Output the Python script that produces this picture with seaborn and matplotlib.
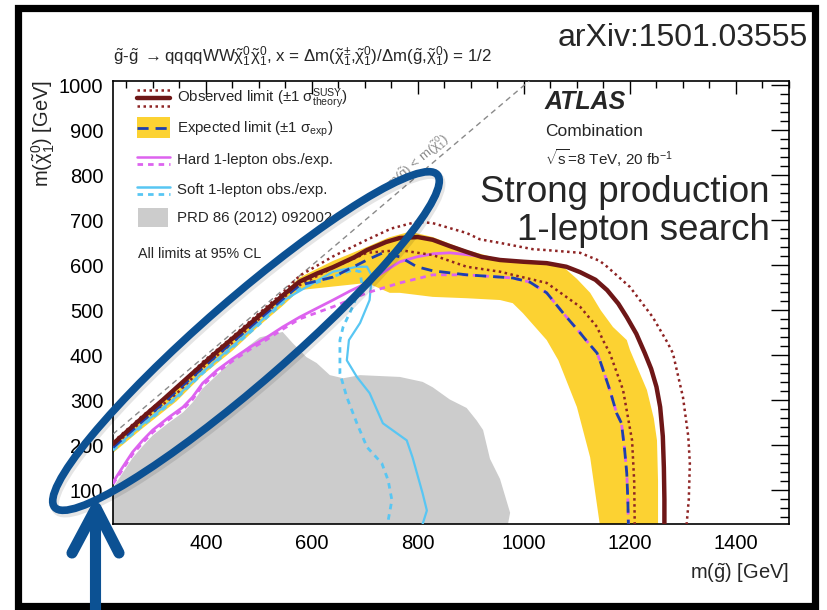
import numpy as np
import pandas as pd
import matplotlib
matplotlib.use("Agg")
import matplotlib.pyplot as plt
import seaborn as sns
from matplotlib.transforms import IdentityTransform
from matplotlib.patches import Ellipse, Rectangle
from matplotlib.lines import Line2D

sns.set_style("white")
plt.rcParams["font.family"] = ["Liberation Sans", "DejaVu Sans"]
plt.rcParams["mathtext.fontset"] = "custom"
plt.rcParams["mathtext.rm"] = "Liberation Sans"
plt.rcParams["mathtext.it"] = "Liberation Sans:italic"
plt.rcParams["mathtext.bf"] = "Liberation Sans:bold"
plt.rcParams["mathtext.default"] = "regular"

# ---------------- data (GeV) ----------------
obs_x = [225, 281, 320, 370, 421, 483, 545, 577, 610, 640, 680, 704, 740, 766, 800, 828, 860, 892, 920, 955,
         1000, 1043, 1080, 1106, 1135, 1157, 1178, 1194, 1212, 1228, 1240, 1250, 1257, 1262, 1264, 1265, 1265]
obs_y = [203, 262, 302, 355, 408, 470, 533, 564, 582, 596, 618, 634, 652, 661, 663, 657, 643, 630, 619, 612,
         608, 605, 597, 585, 568, 545, 515, 485, 448, 405, 370, 330, 285, 220, 150, 80, 25]

obs_up_x = [225, 281, 345, 394, 450, 500, 545, 577, 640, 704, 750, 798, 828, 892, 917, 955, 1017, 1043, 1106,
            1143, 1157, 1200, 1243, 1270, 1281, 1300, 1310, 1313, 1311, 1307]
obs_up_y = [207, 266, 326, 385, 441, 493, 539, 577, 620, 657, 682, 697, 694, 672, 658, 650, 636, 634, 628,
            610, 597, 552, 485, 430, 405, 307, 220, 160, 80, 25]

obs_dn_x = [225, 281, 345, 394, 450, 500, 545, 577, 640, 704, 766, 828, 892, 955, 979, 1043, 1106, 1138,
            1149, 1162, 1187, 1204, 1208, 1209]
obs_dn_y = [198, 255, 315, 372, 428, 480, 527, 556, 595, 628, 634, 623, 597, 586, 579, 561, 508, 463,
            434, 405, 323, 211, 120, 25]

exp_x = [225, 281, 320, 370, 421, 483, 545, 577, 640, 704, 734, 766, 798, 828, 892, 955, 979, 1011, 1043,
         1074, 1106, 1117, 1138, 1145, 1162, 1175, 1184, 1190, 1194, 1196, 1197]
exp_y = [195, 254, 294, 347, 400, 462, 525, 556, 574, 612, 628, 619, 597, 588, 579, 574, 572, 563, 539,
         494, 450, 434, 405, 383, 323, 271, 249, 190, 138, 80, 25]

band_up_x = [225, 281, 345, 394, 450, 500, 545, 577, 640, 704, 745, 785, 828, 892, 955, 1000, 1043, 1074,
             1100, 1125, 1145, 1168, 1194, 1200, 1232, 1245, 1251, 1253, 1253]
band_up_y = [208, 266, 326, 384, 440, 492, 537, 573, 610, 641, 662, 675, 663, 634, 614, 609, 604, 597,
             570, 539, 500, 463, 434, 412, 323, 260, 211, 120, 25]
band_lo_x = [225, 281, 345, 394, 450, 500, 545, 577, 640, 704, 747, 766, 828, 892, 955, 979, 998, 1043,
             1065, 1100, 1125, 1143]
band_lo_y = [183, 238, 298, 356, 410, 465, 510, 545, 553, 561, 539, 539, 530, 527, 523, 516, 494, 434,
             389, 285, 173, 25]

hard_obs_x = [225, 243, 262, 281, 300, 330, 357, 375, 394, 421, 450, 483, 515, 545, 577, 610, 640, 672, 704,
              735, 766, 798, 830, 860, 892, 923, 955, 1000, 1043, 1080, 1106, 1135, 1157, 1178, 1194, 1212,
              1228, 1240, 1250, 1257, 1262, 1264, 1265, 1265]
hard_obs_y = [118, 151, 185, 211, 234, 262, 285, 307, 338, 367, 392, 418, 440, 463, 485, 505, 523, 543, 561,
              585, 608, 619, 626, 628, 624, 619, 612, 608, 605, 597, 585, 568, 545, 515, 485, 448,
              405, 370, 330, 285, 220, 150, 80, 25]

hard_exp_x = [225, 243, 262, 281, 300, 330, 357, 375, 394, 421, 450, 483, 515, 545, 577, 640, 704, 766, 828,
              892, 955, 979, 1011, 1043, 1074, 1106, 1117, 1138, 1145, 1162, 1175, 1184, 1190, 1194, 1196, 1197]
hard_exp_y = [114, 146, 180, 206, 229, 257, 280, 302, 333, 362, 387, 413, 435, 458, 481, 508, 539, 561, 579,
              579, 574, 572, 563, 539, 494, 450, 434, 405, 383, 323, 271, 249, 190, 138, 80, 25]

soft_obs_x = [225, 281, 345, 394, 450, 500, 545, 590, 640, 685, 704, 713, 709, 691, 670, 666, 685, 709, 734,
              779, 790, 809, 817, 809]
soft_obs_y = [192, 247, 308, 363, 420, 472, 521, 552, 586, 597, 597, 577, 523, 472, 434, 389, 352, 316, 249,
              211, 173, 93, 55, 25]

soft_exp_x = [225, 281, 345, 394, 450, 500, 545, 577, 640, 677, 691, 694, 677, 659, 653, 653, 653, 666, 685,
              704, 732, 744, 751, 744]
soft_exp_y = [189, 244, 305, 360, 417, 468, 517, 548, 575, 590, 586, 561, 508, 463, 434, 389, 360, 307, 249,
              196, 160, 122, 78, 33]

prd_x = [225, 243, 262, 281, 300, 330, 357, 375, 394, 421, 451, 480, 502, 545, 564, 590, 609, 634, 659, 691,
         766, 809, 828, 860, 892, 911, 923, 936, 955, 974, 970, 225]
prd_y = [105, 138, 172, 198, 222, 250, 273, 295, 326, 356, 390, 420, 440, 452, 427, 396, 383, 356, 349, 356,
         352, 341, 329, 302, 283, 255, 234, 170, 125, 50, 25, 25]

diag_x = [225, 1010]
diag_y = [225, 1010]

x_major = [400, 600, 800, 1000, 1200, 1400]
x_labels = ["400", "600", "800", "1000", "1200", "1400"]
y_major = [100, 200, 300, 400, 500, 600, 700, 800, 900, 1000]
y_labels = ["100", "200", "300", "400", "500", "600", "700", "800", "900", "1000"]

legend_labels = [
    r"Observed limit ($\pm$1 $\sigma^{\mathrm{SUSY}}_{\mathrm{theory}}$)",
    r"Expected limit ($\pm$1 $\sigma_{\mathrm{exp}}$)",
    "Hard 1-lepton obs./exp.",
    "Soft 1-lepton obs./exp.",
    "PRD 86 (2012) 092002",
]

# ---------------- colours ----------------
C_OBS = "#6e1717"
C_DOT = "#8e2424"
C_BAND = "#fcd232"
C_EXP = "#1d3fae"
C_HARD = "#dd63ef"
C_SOFT = "#58c6f3"
C_PRD = "#cccccc"
C_ANN = "#0c5193"

# ---------------- figure ----------------
W, H = 828, 610
fig = plt.figure(figsize=(W / 100, H / 100), dpi=100)
fig.patch.set_facecolor("white")
AX_L, AX_R, AX_T, AX_B = 113, 789, 81, 524
ax = fig.add_axes([AX_L / W, 1 - AX_B / H, (AX_R - AX_L) / W, (AX_B - AX_T) / H])
ax.set_facecolor("white")

ax.fill(prd_x, prd_y, color=C_PRD, lw=0, zorder=1)
ax.fill(band_up_x + band_lo_x[::-1], band_up_y + band_lo_y[::-1], color=C_BAND, lw=0, zorder=2)


def line(x, y, **kw):
    df = pd.DataFrame({"x": x, "y": y})
    sns.lineplot(data=df, x="x", y="y", sort=False, estimator=None, ax=ax, legend=False, **kw)


line(diag_x, diag_y, color="#8a8a8a", lw=1.0, linestyle=(0, (4, 3)), zorder=3)
line(soft_exp_x, soft_exp_y, color=C_SOFT, lw=2.0, linestyle=(0, (2, 1.8)), zorder=4)
line(soft_obs_x, soft_obs_y, color=C_SOFT, lw=1.6, zorder=4)
line(hard_exp_x, hard_exp_y, color=C_HARD, lw=2.0, linestyle=(0, (2, 1.8)), zorder=5)
line(hard_obs_x, hard_obs_y, color=C_HARD, lw=2.0, zorder=5)
line(obs_up_x, obs_up_y, color=C_DOT, lw=1.8, linestyle=(0, (1, 1.4)), zorder=6)
line(obs_dn_x, obs_dn_y, color=C_DOT, lw=1.8, linestyle=(0, (1, 1.4)), zorder=6)
line(exp_x, exp_y, color=C_EXP, lw=2.0, linestyle=(0, (4, 2.5)), zorder=7)
line(obs_x, obs_y, color=C_OBS, lw=3.2, zorder=8)

ax.set_xlim(225, 1500)
ax.set_ylim(25, 1010)
ax.set_xticks(x_major)
ax.set_xticklabels(x_labels)
ax.set_xticks(np.arange(250, 1501, 50), minor=True)
ax.set_yticks(y_major)
ax.set_yticklabels(y_labels)
ax.set_yticks(np.arange(40, 1010, 20), minor=True)
ax.set_xlabel("")
ax.set_ylabel("")
ax.tick_params(axis="both", which="both", direction="in", top=True, right=True, width=1.0,
               colors="black", labelsize=14.5)
ax.tick_params(axis="x", which="major", length=9.5, pad=7)
ax.tick_params(axis="x", which="minor", length=5)
ax.tick_params(axis="y", which="major", length=13, pad=7)
ax.tick_params(axis="y", which="minor", length=6.5)
for s in ax.spines.values():
    s.set_linewidth(1.2)
    s.set_color("black")
    s.set_visible(True)

# diagonal label
ang = np.degrees(np.arctan((0.449) / (0.53)))
ax.text(812, 816, r"m($\tilde{g}$) < m($\tilde{\chi}^{0}_{1}$)", rotation=ang, rotation_mode="anchor",
        ha="center", va="bottom", fontsize=9.5, color="#8a8a8a", zorder=3)

# ---------------- helpers in image pixels ----------------
ID = IdentityTransform()


def P(px, py):
    return px, H - py


def ftext(px, py, s, **kw):
    x, y = P(px, py)
    fig.text(x, y, s, transform=ID, **kw)


def fline(xs, ys, **kw):
    fig.add_artist(Line2D(xs, [H - v for v in ys], transform=ID, **kw))


# title & axis labels
ftext(113, 62, r"$\tilde{g}$-$\tilde{g}$ $\rightarrow$qqqqWW$\tilde{\chi}^{0}_{1}\tilde{\chi}^{0}_{1}$, x = "
      r"$\Delta$m($\tilde{\chi}^{\pm}_{1}$,$\tilde{\chi}^{0}_{1}$)/$\Delta$m($\tilde{g}$,$\tilde{\chi}^{0}_{1}$) = 1/2",
      ha="left", va="baseline", fontsize=12.2)
ftext(43, 80, r"m($\tilde{\chi}^{0}_{1}$) [GeV]", rotation=90, ha="center", va="top", fontsize=14.5)
ftext(789, 573, r"m($\tilde{g}$) [GeV]", ha="right", va="center", fontsize=14.5)

# legend (drawn as in the original ROOT legend)
LX0, LX1 = 137, 170
fline([LX0, LX1], [90, 90], color=C_DOT, lw=1.8, linestyle=(0, (1, 1.4)), zorder=5)
fline([LX0, LX1], [106, 106], color=C_DOT, lw=1.8, linestyle=(0, (1, 1.4)), zorder=5)
fline([LX0, LX1], [98, 98], color=C_OBS, lw=3.2, zorder=5)
fig.add_artist(Rectangle(P(LX0, 138), LX1 - LX0, 21, transform=ID, color=C_BAND, lw=0, zorder=4))
fline([LX0, LX1], [128, 128], color=C_EXP, lw=2.0, linestyle=(0, (4, 2.5)), zorder=5)
fline([LX0, LX1], [157, 157], color=C_HARD, lw=1.8, zorder=5)
fline([LX0, LX1], [164, 164], color=C_HARD, lw=2.0, linestyle=(0, (2, 1.8)), zorder=5)
fline([LX0, LX1], [187, 187], color=C_SOFT, lw=1.8, zorder=5)
fline([LX0, LX1], [194, 194], color=C_SOFT, lw=2.0, linestyle=(0, (2, 1.8)), zorder=5)
fig.add_artist(Rectangle(P(138, 227), 30, 19, transform=ID, color=C_PRD, lw=0, zorder=4))
for lab, py in zip(legend_labels, [99, 129, 160, 190, 218]):
    ftext(177, py, lab, ha="left", va="center", fontsize=10.8)
ftext(138, 254, "All limits at 95% CL", ha="left", va="center", fontsize=10.3)

# ATLAS block
ftext(545, 102, "ATLAS", ha="left", va="center", fontsize=18, fontweight="bold", fontstyle="italic")
ftext(545, 132, "Combination", ha="left", va="center", fontsize=12.5)
ftext(545, 158, r"$\sqrt{s}$=8 TeV, 20 fb$^{-1}$", ha="left", va="center", fontsize=11)

ftext(770, 193, "Strong production", ha="right", va="center", fontsize=26.5)
ftext(770, 231, "1-lepton search", ha="right", va="center", fontsize=26.5)
ftext(808, 38, "arXiv:1501.03555", ha="right", va="center", fontsize=23)

# annotation ellipse, arrow and frame
cx, cy = P(246, 341)
fig.add_artist(Ellipse((cx + 2, cy - 3), 507, 84, angle=41, transform=ID, fill=False,
                       edgecolor="#000000", alpha=0.10, lw=6, zorder=19))
fig.add_artist(Ellipse((cx, cy), 507, 84, angle=41, transform=ID, fill=False,
                       edgecolor=C_ANN, lw=5.5, zorder=20))
fline([95, 95], [612, 512], color=C_ANN, lw=8, solid_capstyle="butt", zorder=21)
fline([72, 96, 119], [553, 508, 553], color=C_ANN, lw=8, solid_capstyle="round",
      solid_joinstyle="round", zorder=21)
fig.add_artist(Rectangle(P(18, 606), 797, 598, transform=ID, fill=False, edgecolor="black",
                         lw=5.2, zorder=18))

fig.savefig("out.png", dpi=100, facecolor="white")
